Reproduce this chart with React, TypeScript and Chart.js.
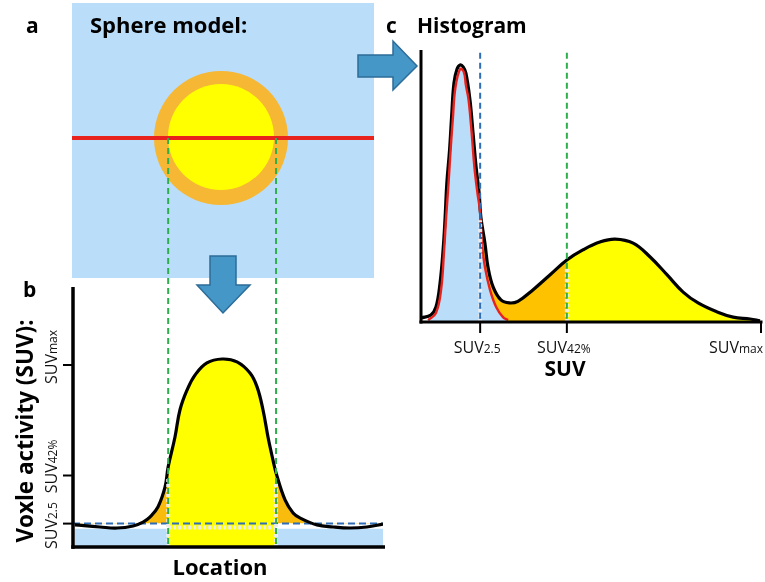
import React, { useEffect, useRef } from "react";
import { Chart, registerables } from "chart.js";

Chart.register(...registerables);

// ---------------- Panel b: activity profile along the red line ----------------
const PROFILE_X = [0.6, 8.7, 14.2, 19.4, 22.6, 24.8, 27.4, 29.7, 30.7, 32.9, 34.5, 36.8, 39.4, 43.2, 48.1, 52.9, 57.1, 59.4, 61.3, 62.9, 64.5, 65.5, 68.4, 71.0, 73.2, 78.7, 83.9, 89.4, 94.8, 100];
const PROFILE_Y = [8.5, 7.7, 7.3, 8.1, 9.6, 11.5, 15.4, 23.1, 30.8, 42.3, 52.7, 60.4, 66.2, 70.8, 72.3, 71.2, 66.9, 61.5, 52.7, 42.3, 33.5, 28.5, 18.1, 13.1, 11.2, 8.5, 7.7, 7.3, 7.7, 8.8];
const PROFILE_TICKS = [9, 27.5, 70];
const PROFILE_TICK_SUB = ["2.5", "42%", "max"];
const PROFILE_LABEL_SHIFT = [-2, 9, 8];
const SPHERE_EDGES = [30.7, 65.5];
const THRESHOLD_LEVEL = 9;
const BACKGROUND_LEVEL = 7;

// ---------------- Panel c: histogram ----------------
const HIST_X = [0, 2.9, 4.4, 5.6, 6.5, 7.1, 7.6, 8.4, 9.0, 9.7, 10.6, 11.5, 12.4, 13.2, 14.4, 15.3, 16.2, 17.1, 17.6, 18.8, 19.7, 21.2, 23.5, 26.0, 28.5, 32.9, 37.9, 42.9, 47.6, 52.6, 57.1, 62.4, 67.4, 72.4, 77.1, 81.5, 87.1, 91.8, 96.8, 99.7];
const HIST_TOTAL = [1.5, 2.6, 5.5, 14.3, 26.5, 38.6, 51.1, 63.2, 75.4, 87.9, 93.0, 94.5, 93.8, 91.5, 81.6, 69.5, 57.0, 47.4, 38.6, 29.0, 20.2, 12.9, 8.1, 7.0, 7.6, 11.8, 17.3, 22.8, 26.5, 29.4, 30.5, 29.0, 23.9, 17.3, 11.0, 7.0, 3.7, 1.8, 1.1, 0.4];
const HIST_BG_X = [2.1, 4.4, 5.9, 6.8, 7.4, 8.1, 8.7, 9.4, 10.1, 11.5, 12.6, 13.2, 14.0, 14.9, 15.7, 16.6, 17.4, 17.9, 18.8, 20.3, 22.1, 24.1, 25.6];
const HIST_BG_Y = [0.7, 3.3, 11.8, 26.5, 38.6, 51.1, 63.2, 75.4, 86.0, 93.0, 91.9, 87.1, 81.6, 69.5, 57.0, 47.4, 40.4, 29.0, 20.2, 11.8, 5.5, 1.8, 0.7];
const HIST_TICKS = [17.4, 42.9, 100];
const HIST_TICK_SUB = ["2.5", "42%", "max"];
const HIST_DASH_TOP = 99;

// ---------------- styling ----------------
const FONT = '"Open Sans", "DejaVu Sans", sans-serif';
const LIGHT_BLUE = "#BADDF9";
const RING = "#F6B734";
const YELLOW = "#FFFF00";
const ORANGE_B = "#F9BC0C";
const ORANGE_C = "#FFC200";
const RED = "#E8231E";
const BLUE_DASH = "#2F6DB6";
const GREEN_DASH = "#2DB04B";
const HALO = "rgba(236,236,236,0.95)";
const ARROW_FILL = "#4597C8";
const ARROW_STROKE = "#2C6C98";
const SLICE_Y = 138;

const pts = (xs: number[], ys: number[]) => xs.map((x, i) => ({ x, y: ys[i] }));
const ptsIn = (xs: number[], ys: number[], lo: number, hi: number) =>
  pts(xs, ys).filter((p) => p.x >= lo && p.x <= hi);

function drawSuv(ctx: CanvasRenderingContext2D, sub: string, x: number, y: number, align: "center" | "right") {
  ctx.font = `16px ${FONT}`;
  const w1 = ctx.measureText("SUV").width;
  ctx.font = `12px ${FONT}`;
  const w2 = ctx.measureText(sub).width;
  const total = w1 + w2;
  const start = align === "center" ? x - total / 2 : x - total;
  ctx.textAlign = "left";
  ctx.textBaseline = "alphabetic";
  ctx.fillStyle = "#111";
  ctx.font = `16px ${FONT}`;
  ctx.fillText("SUV", start, y);
  ctx.font = `12px ${FONT}`;
  ctx.fillText(sub, start + w1, y);
}

function seg(ctx: CanvasRenderingContext2D, x1: number, y1: number, x2: number, y2: number) {
  ctx.beginPath();
  ctx.moveTo(x1, y1);
  ctx.lineTo(x2, y2);
  ctx.stroke();
}

const profileDecor = {
  id: "profileDecor",
  afterDatasetsDraw(chart: any) {
    const { ctx, chartArea: a, scales } = chart;
    const xs = scales.x;
    const ys = scales.y;
    ctx.save();
    // light separators inside the fills
    ctx.strokeStyle = HALO;
    ctx.lineWidth = 4;
    ctx.setLineDash([3, 2]);
    SPHERE_EDGES.forEach((e) => {
      const i = PROFILE_X.indexOf(e);
      const px = xs.getPixelForValue(e);
      seg(ctx, px, a.bottom, px, ys.getPixelForValue(PROFILE_Y[i] - 4));
    });
    const hy = ys.getPixelForValue(BACKGROUND_LEVEL + 0.5);
    seg(ctx, xs.getPixelForValue(SPHERE_EDGES[0]), hy, xs.getPixelForValue(SPHERE_EDGES[1]), hy);
    // green projection lines from the sphere
    ctx.strokeStyle = GREEN_DASH;
    ctx.lineWidth = 2;
    ctx.setLineDash([6, 4]);
    SPHERE_EDGES.forEach((e) => {
      const px = xs.getPixelForValue(e);
      seg(ctx, px, SLICE_Y, px, a.bottom);
    });
    // axes
    ctx.setLineDash([]);
    ctx.strokeStyle = "#000";
    ctx.lineWidth = 3.5;
    seg(ctx, a.left, a.top, a.left, a.bottom + 1.75);
    seg(ctx, a.left - 1.75, a.bottom, a.right + 2, a.bottom);
    ctx.lineWidth = 2;
    PROFILE_TICKS.forEach((v, i) => {
      const py = ys.getPixelForValue(v);
      seg(ctx, a.left - 10, py, a.left, py);
      ctx.save();
      ctx.translate(57, py - PROFILE_LABEL_SHIFT[i]);
      ctx.rotate(-Math.PI / 2);
      drawSuv(ctx, PROFILE_TICK_SUB[i], 0, 0, "center");
      ctx.restore();
    });
    // titles
    ctx.fillStyle = "#000";
    ctx.font = `bold 22.5px ${FONT}`;
    ctx.save();
    ctx.translate(33, 431);
    ctx.rotate(-Math.PI / 2);
    ctx.textAlign = "center";
    ctx.textBaseline = "alphabetic";
    ctx.fillText("Voxle activity (SUV):", 0, 0);
    ctx.restore();
    ctx.textAlign = "center";
    ctx.font = `bold 22px ${FONT}`;
    ctx.fillText("Location", 220, 575);
    ctx.textAlign = "left";
    ctx.font = `bold 21px ${FONT}`;
    ctx.fillText("b", 23, 297);
    ctx.fillText("a", 26, 33);
    ctx.font = `bold 22px ${FONT}`;
    ctx.fillText("Sphere model:", 90, 33);
    ctx.restore();
  },
};

const histDecor = {
  id: "histDecor",
  afterDatasetsDraw(chart: any) {
    const { ctx, chartArea: a, scales } = chart;
    const xs = scales.x;
    const ys = scales.y;
    ctx.save();
    const dashColors = [BLUE_DASH, GREEN_DASH];
    [0, 1].forEach((k) => {
      const v = HIST_TICKS[k];
      const iBg = HIST_BG_X.indexOf(v);
      const iT = HIST_X.indexOf(v);
      const h = iBg >= 0 ? HIST_BG_Y[iBg] : HIST_TOTAL[iT];
      const px = xs.getPixelForValue(v);
      ctx.strokeStyle = HALO;
      ctx.lineWidth = 4;
      ctx.setLineDash([3, 2]);
      seg(ctx, px, a.bottom, px, ys.getPixelForValue(h - 3));
      ctx.strokeStyle = dashColors[k];
      ctx.lineWidth = 2;
      ctx.setLineDash([6, 4]);
      seg(ctx, px, ys.getPixelForValue(HIST_DASH_TOP), px, a.bottom);
    });
    ctx.setLineDash([]);
    ctx.strokeStyle = "#000";
    ctx.lineWidth = 3;
    seg(ctx, a.left, a.top, a.left, a.bottom + 1.5);
    seg(ctx, a.left - 1.5, a.bottom, a.right + 1.5, a.bottom);
    ctx.lineWidth = 2;
    HIST_TICKS.forEach((v, i) => {
      const px = xs.getPixelForValue(v);
      seg(ctx, px, a.bottom, px, a.bottom + 11);
      if (i === HIST_TICKS.length - 1) drawSuv(ctx, HIST_TICK_SUB[i], px + 2, 353, "right");
      else drawSuv(ctx, HIST_TICK_SUB[i], px - 3, 353, "center");
    });
    ctx.fillStyle = "#000";
    ctx.font = `bold 21px ${FONT}`;
    ctx.textAlign = "center";
    ctx.textBaseline = "alphabetic";
    ctx.fillText("SUV", 565, 376);
    ctx.textAlign = "left";
    ctx.fillText("c", 386, 33);
    ctx.fillText("Histogram", 417, 33);
    ctx.restore();
  },
};

const baseOptions = (padding: any) => ({
  responsive: false,
  maintainAspectRatio: false,
  animation: false as const,
  devicePixelRatio: 1,
  events: [] as any[],
  layout: { padding },
  plugins: { legend: { display: false }, tooltip: { enabled: false } },
  elements: { point: { radius: 0 } },
  scales: {
    x: { type: "linear" as const, min: 0, max: 100, display: false },
    y: { type: "linear" as const, min: 0, max: 100, display: false },
  },
});

export default function App() {
  const refB = useRef<HTMLCanvasElement>(null);
  const refC = useRef<HTMLCanvasElement>(null);

  useEffect(() => {
    const smooth = { tension: 0.4, pointRadius: 0 };
    const chartB = new Chart(refB.current!, {
      type: "line",
      data: {
        datasets: [
          { ...smooth, label: "profile", data: pts(PROFILE_X, PROFILE_Y), borderColor: "#000", borderWidth: 3.2, fill: false, order: 0 },
          { label: "threshold", data: [{ x: 0, y: THRESHOLD_LEVEL }, { x: 100, y: THRESHOLD_LEVEL }], borderColor: BLUE_DASH, borderWidth: 2, borderDash: [7, 4], fill: false, pointRadius: 0, order: 1 },
          { label: "bgLeft", data: [{ x: PROFILE_X[0], y: BACKGROUND_LEVEL }, { x: SPHERE_EDGES[0], y: BACKGROUND_LEVEL }], borderColor: "transparent", borderWidth: 0, backgroundColor: LIGHT_BLUE, fill: "origin", pointRadius: 0, order: 2 },
          { label: "bgRight", data: [{ x: SPHERE_EDGES[1], y: BACKGROUND_LEVEL }, { x: 100, y: BACKGROUND_LEVEL }], borderColor: "transparent", borderWidth: 0, backgroundColor: LIGHT_BLUE, fill: "origin", pointRadius: 0, order: 2 },
          { ...smooth, label: "sphere", data: ptsIn(PROFILE_X, PROFILE_Y, SPHERE_EDGES[0], SPHERE_EDGES[1]), borderColor: "transparent", borderWidth: 0, backgroundColor: YELLOW, fill: "origin", order: 3 },
          { ...smooth, label: "rim", data: pts(PROFILE_X, PROFILE_Y), borderColor: "transparent", borderWidth: 0, fill: { target: { value: THRESHOLD_LEVEL }, above: ORANGE_B, below: "rgba(0,0,0,0)" }, order: 4 },
        ],
      } as any,
      options: baseOptions({ left: 73, top: 287, right: 765 - 383, bottom: 582 - 547 }) as any,
      plugins: [profileDecor],
    });

    const chartC = new Chart(refC.current!, {
      type: "line",
      data: {
        datasets: [
          { ...smooth, label: "background", data: pts(HIST_BG_X, HIST_BG_Y), borderColor: RED, borderWidth: 2.4, fill: false, order: 0 },
          { ...smooth, label: "total", data: pts(HIST_X, HIST_TOTAL), borderColor: "#000", borderWidth: 3.2, fill: false, order: 1 },
          { ...smooth, label: "bgFill", data: pts(HIST_BG_X, HIST_BG_Y), borderColor: "transparent", borderWidth: 0, backgroundColor: LIGHT_BLUE, fill: "origin", order: 2 },
          { ...smooth, label: "upper", data: ptsIn(HIST_X, HIST_TOTAL, HIST_TICKS[1], 100), borderColor: "transparent", borderWidth: 0, backgroundColor: YELLOW, fill: "origin", order: 3 },
          { ...smooth, label: "mid", data: ptsIn(HIST_X, HIST_TOTAL, HIST_TICKS[0], HIST_TICKS[1]), borderColor: "transparent", borderWidth: 0, backgroundColor: ORANGE_C, fill: "origin", order: 4 },
        ],
      } as any,
      options: baseOptions({ left: 421, top: 50, right: 765 - 761, bottom: 582 - 322 }) as any,
      plugins: [histDecor],
    });

    return () => {
      chartB.destroy();
      chartC.destroy();
    };
  }, []);

  const abs = { position: "absolute" as const };
  return (
    <div style={{ ...abs, left: 0, top: 0, width: 765, height: 582, background: "#fff", overflow: "hidden" }}>
      <div style={{ ...abs, left: 72, top: 3, width: 302, height: 275, background: LIGHT_BLUE }} />
      <div style={{ ...abs, left: 153.5, top: 70.5, width: 134, height: 134, borderRadius: "50%", background: RING }} />
      <div style={{ ...abs, left: 167.5, top: 84, width: 106, height: 106, borderRadius: "50%", background: YELLOW }} />
      <div style={{ ...abs, left: 72, top: 136.2, width: 302, height: 3.6, background: RED }} />
      <svg width={765} height={582} style={{ ...abs, left: 0, top: 0 }}>
        <polygon points="210,256 236,256 236,285 250,285 223,313 197,285 210,285" fill={ARROW_FILL} stroke={ARROW_STROKE} strokeWidth={1.5} />
        <polygon points="358,55 393,55 393,41 417,66 393,90 393,77 358,77" fill={ARROW_FILL} stroke={ARROW_STROKE} strokeWidth={1.5} />
      </svg>
      <canvas ref={refB} width={765} height={582} style={{ ...abs, left: 0, top: 0, width: 765, height: 582 }} />
      <canvas ref={refC} width={765} height={582} style={{ ...abs, left: 0, top: 0, width: 765, height: 582 }} />
    </div>
  );
}
